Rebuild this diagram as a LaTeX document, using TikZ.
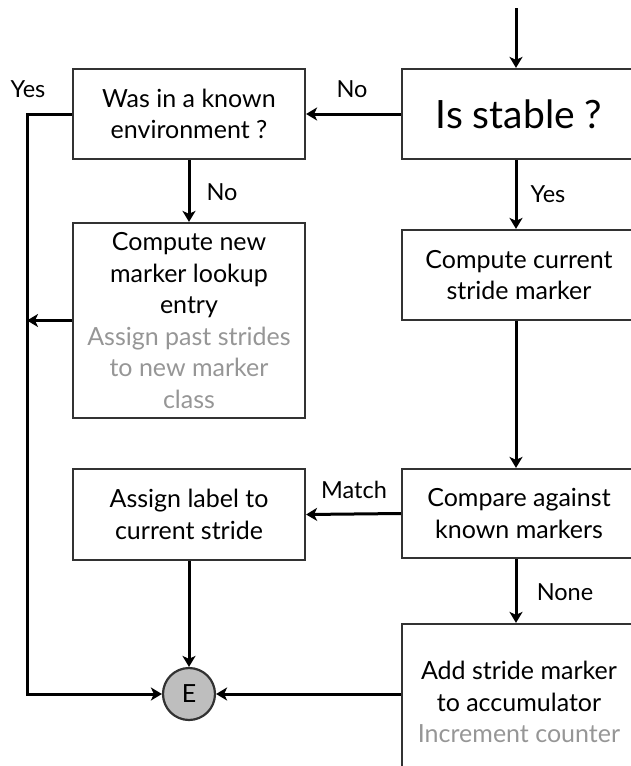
\documentclass[tikz,border=0pt]{standalone}
\usepackage{fontspec}
\setmainfont{Lato}
\usetikzlibrary{arrows.meta,calc}
\definecolor{txtgray}{RGB}{150,150,150}
\definecolor{boxline}{RGB}{50,50,50}
\definecolor{efill}{RGB}{190,190,190}
\begin{document}
\begin{tikzpicture}[x=1pt,y=-1pt,
  box/.style={draw=boxline, line width=2.2pt, minimum width=232pt, minimum height=90pt,
    align=center, inner sep=0pt, text=black, font=\fontsize{25}{31.5}\selectfont},
  conn/.style={line width=3pt, -{Stealth[length=11pt,width=13pt,inset=3pt]}},
  lbl/.style={text=black, font=\fontsize{23.5}{26}\selectfont},
  circ/.style={circle, draw=boxline, line width=2.2pt, fill=efill, minimum size=52pt,
    inner sep=0pt, text=black, font=\fontsize{25}{26}\selectfont}]
\useasboundingbox (0,0) rectangle (631,766);

\node[box] (envq) at (189,114) {Was in a known\\environment ?};
\node[box, minimum width=234pt, font=\fontsize{39}{50}\selectfont] (stable) at (519,114) {Is stable ?};
\node[box, minimum width=234pt] (cur) at (519,275) {Compute current\\stride marker};
\node[box, minimum width=234pt, minimum height=89pt] (cmp) at (519,513.5) {Compare against\\known markers};
\node[box, minimum width=234pt, minimum height=156pt] (add) at (519,702) {Add stride marker\\to accumulator\\\textcolor{txtgray}{Increment counter}};
\node[box, minimum height=195pt] (newm) at (189,320.5) {Compute new\\marker lookup\\entry\\\textcolor{txtgray}{Assign past strides}\\\textcolor{txtgray}{to new marker}\\\textcolor{txtgray}{class}};
\node[box, minimum height=91pt] (lab) at (189,514.5) {Assign label to\\current stride};
\node[circ] (E) at (189,694) {E};

\node[lbl] (lyes1) at (28,89) {Yes};
\node[lbl] (lno1) at (352,89) {No};
\node[lbl] (lno2) at (222,192) {No};
\node[lbl] (lyes2) at (548,194) {Yes};
\node[lbl] (lmatch) at (354,490) {Match};
\node[lbl] (lnone) at (565,592) {None};

\coordinate (top) at (516,8);
\coordinate (yl) at (27,114);
\coordinate (yb) at (27,694);

\draw[conn] (top) -- (top |- stable.north);
\draw[conn] (stable.west) -- (envq.east);
\draw[conn] (envq.south) -- (newm.north);
\draw[conn] (stable.south -| top) -- (cur.north -| top);
\draw[conn] (cur.south -| top) -- (cmp.north -| top);
\draw[conn] (cmp.west) -- (lab.east);
\draw[conn] (cmp.south -| top) -- (add.north -| top);
\draw[conn] (lab.south) -- (E.north);
\draw[conn] (add.west |- E) -- (E.east);
\draw[conn] (envq.west) -- (yl) -- (yb) -- (E.west);
\draw[conn] (newm.west) -- (newm.west -| yl);
\end{tikzpicture}
\end{document}
